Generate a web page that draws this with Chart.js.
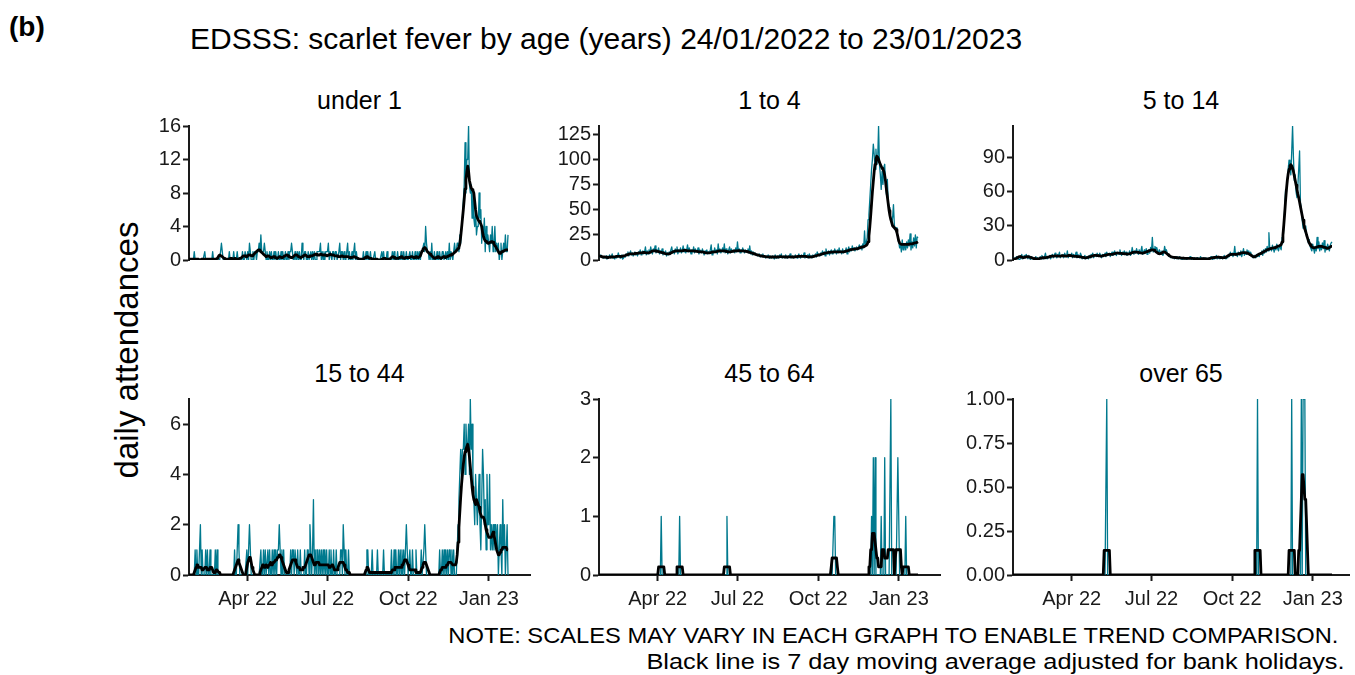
<!DOCTYPE html>
<html>
<head>
<meta charset="utf-8">
<script src="https://cdn.jsdelivr.net/npm/chart.js@4.4.1/dist/chart.umd.min.js"></script>
<style>
  html, body { margin: 0; padding: 0; background: #fff; }
  #fig { position: relative; width: 1355px; height: 675px; overflow: hidden;
         font-family: Arial, "Liberation Sans", sans-serif; color: #000; }
  #fig canvas { position: absolute; }
  .tag { position: absolute; left: 9px; top: 10px; font-size: 28px; font-weight: bold; line-height: 34px; }
  .main { position: absolute; left: 190px; top: 22px; font-size: 30px; line-height: 34px; white-space: nowrap; }
  .ylab { position: absolute; left: 127px; top: 350px; font-size: 33px; line-height: 38px; white-space: nowrap;
          transform: translate(-50%, -50%) rotate(-90deg); }
  .ptitle { position: absolute; font-size: 25px; line-height: 30px; text-align: center; white-space: nowrap; }
  .note { position: absolute; font-size: 22px; line-height: 26px; white-space: nowrap;
          transform-origin: right center; }
</style>
</head>
<body>
<div id="fig">
  <div class="tag">(b)</div>
  <div class="main">EDSSS: scarlet fever by age (years) 24/01/2022 to 23/01/2023</div>
  <div class="ylab">daily attendances</div>
  <div class="note" id="note1" style="top:623px; right:17px">NOTE: SCALES MAY VARY IN EACH GRAPH TO ENABLE TREND COMPARISON.</div>
  <div class="note" id="note2" style="top:649px; right:10px">Black line is 7 day moving average adjusted for bank holidays.</div>
</div>
<script>
// Day 0 = 24/01/2022, day 364 = 23/01/2023. Rows hold 14 days each.
const monthTicks = [67, 158, 250, 342];
const monthLabels = ['Apr 22', 'Jul 22', 'Oct 22', 'Jan 23'];

const under1Daily = [
  0,0,0,0,0,0,1,0,0,0,0,0,0,0, 0,0,0,0,1,0,0,0,0,0,0,0,0,1,
  0,0,0,0,0,0,0,0,1,2,1,0,0,0, 0,0,0,0,1,0,0,0,0,1,0,0,0,1,
  0,0,0,0,0,1,0,0,1,1,0,1,0,2, 1,0,0,1,0,1,1,0,1,1,2,1,3,1,
  1,1,2,1,0,1,0,0,1,0,1,0,0,1, 0,1,0,0,1,0,0,1,0,1,0,0,1,0,
  0,1,0,1,1,2,1,0,0,1,0,0,1,0, 1,0,0,2,1,0,1,1,0,0,1,0,0,1,
  0,1,0,1,0,0,1,1,1,1,2,0,1,0, 1,0,1,1,1,2,0,1,1,0,1,1,0,1,
  1,0,0,1,2,0,1,1,0,1,0,0,1,2, 0,1,0,0,1,0,1,2,0,1,0,0,0,0,
  0,0,0,1,0,0,1,0,1,0,0,1,0,0, 0,0,1,0,0,0,0,0,0,0,1,0,1,0,
  0,0,1,0,0,0,0,0,1,0,1,0,0,0, 1,0,0,0,1,0,0,1,0,0,1,0,0,0,
  1,0,0,1,0,0,1,0,0,1,0,1,0,1, 1,1,2,1,4,2,1,1,0,1,0,2,0,0,
  1,0,0,1,0,0,1,0,0,1,1,0,0,1, 0,1,0,2,0,1,1,0,1,2,1,1,2,2,
  1,3,2,4,5,7,9,14,8,12,12,16,9,8, 9,5,8,5,4,6,3,4,4,8,5,6,2,4,
  3,5,1,4,2,3,2,1,3,2,4,1,2,4, 1,2,1,2,0,1,2,0,1,2,1,3,1,1,
  3
];
const under1Avg = [
  0.1,0.1,0.1,0.1,0.1,0.1,0.1,0.1,0.1,0.1,0.1,0.1,0,0,
  0.1,0.1,0.1,0.1,0.1,0.1,0.1,0.1,0.1,0.1,0.1,0.1,0.1,0.1,
  0.1,0.1,0.1,0.1,0.2,0.3,0.5,0.6,0.5,0.5,0.4,0.3,0.2,0.1,
  0.1,0.1,0.1,0.1,0.1,0.2,0.2,0.1,0.1,0.1,0.2,0.2,0.1,0.1,
  0.1,0.1,0.2,0.2,0.3,0.4,0.5,0.5,0.5,0.4,0.4,0.5,0.6,0.6,
  0.6,0.5,0.5,0.6,0.7,0.8,0.9,1.0,1.1,1.2,1.2,1.1,1.0,0.9,
  0.8,0.7,0.6,0.5,0.4,0.4,0.5,0.5,0.4,0.3,0.3,0.3,0.4,0.4,
  0.3,0.3,0.2,0.2,0.3,0.4,0.4,0.3,0.3,0.3,0.4,0.5,0.5,0.6,
  0.6,0.5,0.4,0.4,0.3,0.3,0.3,0.4,0.5,0.6,0.6,0.6,0.5,0.4,
  0.4,0.3,0.3,0.4,0.5,0.5,0.6,0.6,0.5,0.4,0.4,0.4,0.5,0.5,
  0.5,0.5,0.6,0.6,0.7,0.7,0.6,0.6,0.6,0.6,0.7,0.7,0.6,0.6,
  0.6,0.6,0.6,0.5,0.5,0.6,0.6,0.7,0.7,0.6,0.6,0.6,0.5,0.5,
  0.5,0.5,0.4,0.4,0.4,0.4,0.5,0.5,0.4,0.4,0.4,0.4,0.4,0.4,
  0.4,0.3,0.3,0.3,0.3,0.3,0.4,0.4,0.3,0.3,0.2,0.2,0.1,0.1,
  0.1,0.1,0.1,0.1,0.2,0.3,0.3,0.4,0.4,0.3,0.2,0.2,0.2,0.1,
  0.1,0.1,0.1,0.1,0.1,0.1,0,0,0,0,0.1,0.1,0.2,0.2,
  0.2,0.1,0.1,0.1,0.1,0.1,0.2,0.3,0.4,0.4,0.3,0.2,0.2,0.2,
  0.2,0.2,0.3,0.3,0.4,0.3,0.3,0.2,0.2,0.3,0.3,0.3,0.3,0.3,
  0.3,0.4,0.4,0.4,0.3,0.3,0.3,0.4,0.4,0.3,0.3,0.4,0.5,0.8,
  1.1,1.3,1.4,1.5,1.4,1.2,1.0,0.9,0.8,0.7,0.6,0.5,0.4,0.3,
  0.2,0.2,0.3,0.3,0.4,0.4,0.3,0.2,0.2,0.3,0.4,0.4,0.3,0.3,
  0.4,0.4,0.5,0.5,0.6,0.6,0.7,0.7,0.8,0.9,1.0,1.1,1.2,1.4,
  1.5,1.9,2.8,3.8,4.9,6.0,7.2,8.5,9.6,10.5,11.2,10.6,9.5,9.0,
  8.6,8.4,8.3,8.0,7.0,6.0,5.3,5.0,4.8,4.6,4.5,4.3,4.0,3.3,
  2.8,2.5,2.3,2.2,2.1,2.0,2.0,2.1,2.1,2.2,2.2,2.1,1.9,1.7,
  1.6,1.4,1.2,1.0,0.8,0.8,0.9,1.0,1.0,1.1,1.1,1.2,1.2,1.2,
  1.2
];

const age1to4Daily = [
  4,3,5,4,3,2,3,2,4,1,2,3,5,2, 3,6,2,3,1,4,2,3,7,4,2,3,5,1,
  2,4,3,6,5,8,4,6,9,5,7,4,6,8, 5,7,4,8,6,10,5,7,9,6,8,13,5,9,
  6,10,7,13,8,6,11,9,14,7,10,8,12,6, 9,7,11,5,8,6,9,4,7,5,8,6,10,13,
  7,9,6,11,8,13,6,10,8,12,7,9,14,8, 11,7,10,15,8,12,9,6,10,8,13,7,11,9,
  8,12,6,10,9,7,11,8,5,9,7,10,6,8, 7,10,15,5,9,7,12,8,10,6,16,8,11,7,
  9,12,8,16,7,11,9,6,10,13,7,11,8,9, 10,7,12,8,18,9,11,7,10,8,12,9,7,10,
  9,8,11,7,14,6,9,5,8,6,7,5,6,4, 5,6,3,5,4,6,3,4,2,4,3,5,2,4,
  3,2,4,3,1,5,2,3,4,2,5,3,6,2, 3,4,2,5,3,2,4,3,6,2,3,4,2,3,
  5,3,2,4,6,3,2,5,4,3,7,2,4,3, 5,2,6,3,4,2,5,3,4,6,3,8,5,6,
  4,7,5,9,6,8,4,11,7,6,9,5,8,10, 6,9,7,11,8,6,10,7,12,8,9,6,11,7,
  9,8,12,6,10,13,8,11,9,14,10,12,9,11, 13,10,12,15,11,14,10,16,12,29,14,18,22,40,
  45,60,75,90,100,115,105,90,110,95,100,133,95,85, 70,88,75,92,95,72,65,80,58,52,45,40,36,42,
  55,35,30,32,28,22,18,12,15,8,20,10,16,14, 10,18,12,20,14,26,10,18,12,22,14,25,12,23,
  22
];
const age1to4Avg = [
  4,4,3.5,3.5,3,3,3,2.8,2.8,2.5,2.5,2.5,2.8,3,
  3,3,3,3,3.2,3.3,3.5,3.5,3.6,3.6,3.5,3.4,3.5,3.8,
  4,4.2,4.5,5,5.2,5.5,5.8,6,6,6,6,6,6.2,6.5,
  6.5,6.5,6.5,6.8,7,7,7,7,7.2,7.5,7.5,7.2,7,7,
  7,7.2,7.5,8,8.5,9,9,9,9,8.8,8.5,8.5,8.3,8,
  7.8,7.5,7.2,7,6.8,6.5,6.2,6,6,6,6.2,6.5,7,7.5,
  8,8.2,8.5,8.8,9,9,9,9,9,9,9,9,9.2,9.5,
  9.5,9.5,9.2,9,9,9,9,9,9,9,9,8.8,8.8,8.5,
  8.5,8.3,8.2,8,8,8,8,7.8,7.5,7.2,7,7,7,7,
  7,7.2,7.5,7.8,8,8,8,8,8.2,8.5,8.8,9,9,9,
  9,9,9,9,8.8,8.5,8.3,8.2,8,8,8,8.2,8.5,8.7,
  9,9,9,9,9,9.2,9.2,9,9,9,9,9,8.8,8.5,
  8.5,8.3,8,7.8,7.5,7.2,7,6.8,6.5,6,5.8,5.5,5.2,5,
  4.8,4.5,4.2,4,3.8,3.6,3.5,3.5,3.3,3.2,3.2,3.1,3,3,
  3,3,3,3,3,3,3,3,3,3,3.2,3.3,3.3,3.2,
  3.2,3.1,3,3,3,3,3,3.2,3.2,3.1,3,3,3,3,
  3.2,3.3,3.4,3.5,3.5,3.5,3.6,3.6,3.5,3.5,3.6,3.6,3.5,3.3,
  3.2,3.1,3,3,3.1,3.2,3.3,3.5,3.8,4,4.2,4.5,4.8,5,
  5.2,5.5,5.8,6,6.3,6.6,6.8,7,7.2,7.4,7.5,7.6,7.7,7.8,
  7.8,7.9,8,8,8,8,8,8,8,8,8,8,8,8,
  8.2,8.5,8.8,9,9.3,9.6,10,10.2,10.4,10.5,10.6,10.8,11,11,
  11,11.2,11.5,12,12.3,12.5,12.8,13,13.2,13.5,14,14.5,15.5,18,
  24,33,44,56,68,78,88,95,100,103,102,100,97,95,
  93,91,90,88,84,78,70,63,56,49,44,40,37,34,
  33,32,31,30,27,23,19,17,16,15.5,15.5,15.5,15.5,15.5,
  15.5,15.5,15.5,15.5,15.8,16,16,16,16.2,16.5,17,17,17.2,17.5,
  18
];

const age5to14Daily = [
  1,2,0,1,3,1,2,0,1,2,5,1,3,4, 2,5,3,1,4,2,0,3,1,2,0,1,3,1,
  2,0,1,3,1,4,2,1,3,6,2,1,3,2, 4,1,3,5,2,4,6,3,2,5,4,7,2,4,
  3,5,2,6,4,3,8,2,5,3,4,6,2,5, 3,4,7,2,5,3,2,6,4,1,3,2,4,1,
  3,2,1,4,2,5,3,6,2,4,5,3,6,4, 3,6,4,2,5,3,4,6,3,7,4,5,6,3,
  5,7,4,6,8,5,4,7,6,5,9,6,4,7, 6,8,5,7,4,6,5,8,4,6,11,7,5,8,
  6,10,7,5,9,6,8,12,5,7,9,6,10,5, 7,9,6,11,8,20,7,10,12,9,11,8,6,9,
  7,5,8,4,6,12,8,9,6,5,3,4,2,3, 2,3,1,2,3,1,2,1,3,1,2,0,1,2,
  1,2,0,1,2,1,3,1,0,2,1,2,1,0, 2,1,0,1,3,1,0,2,1,0,2,1,0,1,
  2,1,3,2,0,3,1,2,4,1,2,3,1,2, 3,1,2,4,2,1,3,2,5,3,7,4,6,3,
  5,12,4,6,3,7,5,4,8,3,6,10,4,7, 5,9,6,8,4,7,5,3,2,4,3,2,5,3,
  4,3,6,5,8,4,9,6,10,7,12,8,24,9, 11,8,13,10,7,12,9,14,10,8,13,11,9,20,
  15,30,45,62,60,70,80,88,85,75,95,118,90,70, 75,60,55,65,80,96,50,45,35,28,33,25,30,22,
  20,15,18,12,10,8,14,10,6,12,8,20,10,16, 8,13,9,15,10,17,7,12,9,14,11,8,13,15,
  16
];
const age5to14Avg = [
  1,1,1,1.2,1.5,2,2.5,3,3,2.8,2.5,2.2,2,2.2,
  2.5,2.8,3,3,2.8,2.5,2.2,2,1.8,1.5,1.3,1.2,1,1,
  1,1,1.2,1.4,1.6,1.8,2,2,2,2,2.2,2.4,2.6,2.8,
  3,3.2,3.4,3.5,3.5,3.5,3.6,3.7,3.6,3.5,3.5,3.4,3.5,3.6,
  3.8,3.8,3.7,3.6,3.5,3.5,3.6,3.8,4,4,3.8,3.6,3.5,3.4,
  3.3,3.2,3.1,3,3,3,2.9,2.8,2.6,2.4,2.2,2,1.9,1.9,
  2,2.2,2.5,2.8,3,3.2,3.4,3.6,3.8,4,4,4,3.9,3.8,
  3.7,3.6,3.5,3.5,3.6,3.8,4,4.2,4.4,4.6,4.8,5,5,5,
  5,5,5.2,5.4,5.6,5.8,6,6,6,6,6,5.9,5.8,5.7,
  5.6,5.5,5.4,5.3,5.2,5.2,5.3,5.5,5.8,6.1,6.5,6.8,7,7,
  7,6.9,6.8,6.7,6.5,6.3,6.2,6.1,6,6.2,6.5,6.8,7.1,7.5,
  7.8,8,8.3,8.6,8.9,9,8.8,8.5,8,7.4,6.8,6.2,5.7,5.5,
  5.6,6,6.5,6.9,7.1,7,6.6,6,5.3,4.6,4,3.5,3.1,2.8,
  2.6,2.4,2.3,2.2,2.1,2,2,1.9,1.8,1.8,1.7,1.6,1.6,1.5,
  1.5,1.5,1.4,1.4,1.4,1.4,1.5,1.5,1.5,1.4,1.3,1.2,1.2,1.1,
  1.1,1.1,1,1,1,1.1,1.2,1.2,1.1,1,1,1,1,1.1,
  1.3,1.5,1.7,1.9,2,2.1,2.2,2.3,2.4,2.5,2.5,2.4,2.3,2.2,
  2.1,2,2,2.1,2.3,2.6,3,3.5,4,4.5,4.8,5,5,5,
  5,5,5,5,5.2,5.4,5.6,5.8,6,6.2,6.4,6.5,6.5,6.4,
  6.2,6,5.8,5.5,5,4.5,4,3.5,3,2.8,3,3.3,3.8,4.3,
  4.8,5.2,5.6,6,6.4,6.8,7.2,7.6,8,8.5,9,9.3,9.6,9.8,
  10,10.2,10.4,10.6,10.8,11,11.3,11.6,12,12.3,12.6,13,13.5,16,
  22,31,41,52,62,70,76,80,83,84,83,81,78,74,
  70,66,62,58,55,51,47,43,39,35,31,27,25,22,
  19.5,17,15,13.5,12.5,11.5,11,10.8,10.8,11,11.2,11.5,11.8,12,
  12,12,12,11.8,11.5,11.2,11,10.8,10.5,10.3,10.5,11,11.5,12,
  12
];

const age15to44Daily = [
  0,0,0,0,0,0,0,1,0,1,0,0,1,2, 0,1,0,0,0,1,0,1,0,0,1,0,0,0,
  0,0,1,0,1,0,0,0,0,0,0,0,0,0, 0,0,0,0,0,0,0,0,0,0,1,0,0,1,
  2,1,0,0,0,0,0,0,0,0,1,0,1,2, 1,0,0,0,0,0,0,0,0,0,0,0,1,0,
  0,1,0,1,0,0,1,0,1,0,0,1,0,1, 0,1,0,1,1,2,1,0,1,0,1,0,0,0,
  0,0,0,0,1,0,1,1,0,1,1,0,1,0, 0,1,0,0,0,0,1,0,0,1,1,0,2,1,
  0,1,3,0,1,0,1,1,0,1,0,1,0,1, 0,1,0,1,0,0,1,0,1,0,0,1,0,0,
  1,0,0,0,0,1,1,0,2,1,0,1,0,0, 1,0,0,0,0,0,0,0,0,0,0,0,0,0,
  0,0,0,0,0,0,0,1,1,0,0,0,0,1, 0,0,0,0,0,1,0,0,0,0,0,0,1,0,
  0,0,0,0,0,0,0,1,0,0,1,0,1,0, 0,1,0,1,0,1,0,1,0,1,2,1,0,0,
  1,0,0,1,0,0,0,1,0,0,0,0,0,1, 0,0,1,2,1,0,0,0,0,0,0,0,0,0,
  0,0,0,0,0,0,1,0,0,1,0,1,0,1, 0,1,0,1,1,0,1,0,1,0,0,0,1,2,
  3,4,5,4,5,5,6,4,6,5,5,6,4,7, 5,6,4,3,2,4,3,2,3,4,2,1,3,5,
  4,2,3,1,4,2,2,4,1,2,1,2,1,2, 2,1,2,0,1,2,1,0,3,1,2,0,1,2,
  0
];
const age15to44Avg = [
  0,0,0,0,0,0,0.1,0.2,0.3,0.4,0.4,0.3,0.3,0.3,
  0.3,0.2,0.2,0.2,0.3,0.3,0.3,0.2,0.2,0.2,0.3,0.3,0.3,0.2,
  0.1,0.1,0.1,0.2,0.2,0.2,0.1,0.1,0,0,0,0,0,0,
  0,0,0,0,0,0,0,0,0,0.1,0.2,0.3,0.4,0.5,
  0.6,0.5,0.4,0.3,0.2,0.1,0,0,0,0.1,0.3,0.5,0.6,0.7,
  0.7,0.5,0.3,0.2,0.1,0,0,0,0,0,0,0.1,0.2,0.3,
  0.4,0.4,0.3,0.3,0.4,0.4,0.3,0.4,0.4,0.5,0.4,0.4,0.5,0.5,
  0.5,0.6,0.6,0.7,0.7,0.8,0.8,0.7,0.6,0.5,0.4,0.3,0.2,0.1,
  0.1,0.1,0.2,0.3,0.4,0.5,0.6,0.6,0.6,0.6,0.5,0.4,0.3,0.3,
  0.3,0.2,0.2,0.2,0.3,0.3,0.3,0.4,0.5,0.6,0.7,0.8,0.8,0.8,
  0.7,0.6,0.5,0.4,0.4,0.5,0.5,0.5,0.5,0.4,0.4,0.4,0.4,0.4,
  0.4,0.4,0.4,0.4,0.4,0.4,0.3,0.3,0.3,0.4,0.4,0.3,0.2,0.2,
  0.2,0.2,0.3,0.4,0.5,0.5,0.5,0.5,0.5,0.4,0.3,0.2,0.2,0.1,
  0.1,0.1,0,0,0,0,0,0,0,0,0,0,0,0,
  0,0,0,0,0,0.1,0.2,0.3,0.3,0.2,0.1,0.1,0.1,0.1,
  0.1,0.1,0.1,0.1,0.1,0.1,0.1,0.1,0.1,0.1,0.1,0.1,0.1,0.1,
  0.1,0.1,0.1,0.1,0.1,0.1,0.1,0.1,0.2,0.2,0.2,0.3,0.3,0.3,
  0.3,0.3,0.3,0.3,0.3,0.4,0.4,0.5,0.6,0.6,0.6,0.5,0.4,0.3,
  0.2,0.2,0.2,0.2,0.2,0.2,0.2,0.1,0.1,0.1,0.1,0.1,0.1,0.2,
  0.3,0.4,0.5,0.5,0.5,0.4,0.3,0.2,0.1,0,0,0,0,0,
  0,0,0,0,0,0,0.1,0.2,0.2,0.3,0.3,0.3,0.3,0.3,
  0.4,0.4,0.5,0.5,0.5,0.5,0.5,0.4,0.4,0.4,0.4,0.5,0.8,1.3,
  1.9,2.5,3.1,3.6,4.0,4.4,4.7,4.9,5.0,5.1,5.2,5.0,4.7,4.3,
  3.9,3.5,3.2,3.0,2.9,2.8,3.0,2.9,2.8,2.7,2.5,2.4,2.3,2.3,
  2.3,2.2,2.0,1.8,1.7,1.6,1.5,1.5,1.5,1.5,1.6,1.7,1.6,1.4,
  1.2,1.0,0.9,0.8,0.8,0.9,1.0,1.0,1.1,1.1,1.1,1.1,1.1,1.0,
  1.0
];

const age45to64Daily = [
  0,0,0,0,0,0,0,0,0,0,0,0,0,0, 0,0,0,0,0,0,0,0,0,0,0,0,0,0,
  0,0,0,0,0,0,0,0,0,0,0,0,0,0, 0,0,0,0,0,0,0,0,0,0,0,0,0,0,
  0,0,0,0,0,0,0,0,0,0,0,0,0,0, 0,1,0,0,0,0,0,0,0,0,0,0,0,0,
  0,0,0,0,0,0,0,0,1,0,0,0,0,0, 0,0,0,0,0,0,0,0,0,0,0,0,0,0,
  0,0,0,0,0,0,0,0,0,0,0,0,0,0, 0,0,0,0,0,0,0,0,0,0,0,0,0,0,
  0,0,0,0,0,0,1,0,0,0,0,0,0,0, 0,0,0,0,0,0,0,0,0,0,0,0,0,0,
  0,0,0,0,0,0,0,0,0,0,0,0,0,0, 0,0,0,0,0,0,0,0,0,0,0,0,0,0,
  0,0,0,0,0,0,0,0,0,0,0,0,0,0, 0,0,0,0,0,0,0,0,0,0,0,0,0,0,
  0,0,0,0,0,0,0,0,0,0,0,0,0,0, 0,0,0,0,0,0,0,0,0,0,0,0,0,0,
  0,0,0,0,0,0,0,0,0,0,0,0,0,0, 0,0,1,1,0,0,0,0,0,0,0,0,0,0,
  0,0,0,0,0,0,0,0,0,0,0,0,0,0, 0,0,0,0,0,0,0,0,0,0,0,0,0,0,
  0,0,0,1,0,2,0,2,0,0,0,0,0,0, 1,0,0,0,2,0,0,0,0,0,0,3,0,0,
  0,0,0,0,0,2,1,0,0,0,0,0,0,0, 1,0,0,0,0,0,0,0,0,0,0,0,0,0,
  0
];
const age45to64Avg = [
  0,0,0,0,0,0,0,0,0,0,0,0,0,0, 0,0,0,0,0,0,0,0,0,0,0,0,0,0,
  0,0,0,0,0,0,0,0,0,0,0,0,0,0, 0,0,0,0,0,0,0,0,0,0,0,0,0,0,
  0,0,0,0,0,0,0,0,0,0,0,0,0.14,0.14, 0.14,0.14,0.14,0.14,0.14,0,0,0,0,0,0,0,0,0,
  0,0,0,0,0,0.14,0.14,0.14,0.14,0.14,0.14,0.14,0,0, 0,0,0,0,0,0,0,0,0,0,0,0,0,0,
  0,0,0,0,0,0,0,0,0,0,0,0,0,0, 0,0,0,0,0,0,0,0,0,0,0,0,0,0,
  0,0,0,0.14,0.14,0.14,0.14,0.14,0.14,0.14,0,0,0,0, 0,0,0,0,0,0,0,0,0,0,0,0,0,0,
  0,0,0,0,0,0,0,0,0,0,0,0,0,0, 0,0,0,0,0,0,0,0,0,0,0,0,0,0,
  0,0,0,0,0,0,0,0,0,0,0,0,0,0, 0,0,0,0,0,0,0,0,0,0,0,0,0,0,
  0,0,0,0,0,0,0,0,0,0,0,0,0,0, 0,0,0,0,0,0,0,0,0,0,0,0,0,0,
  0,0,0,0,0,0,0,0,0,0,0,0,0,0.14, 0.29,0.29,0.29,0.29,0.29,0.29,0.14,0,0,0,0,0,0,0,
  0,0,0,0,0,0,0,0,0,0,0,0,0,0, 0,0,0,0,0,0,0,0,0,0,0,0,0,0,
  0.14,0.14,0.43,0.43,0.71,0.71,0.71,0.57,0.57,0.29,0.29,0.14,0.14,0.14,
  0.14,0.43,0.43,0.43,0.29,0.29,0.29,0.29,0.43,0.43,0.43,0.43,0.43,0.43,
  0.43,0,0.29,0.43,0.43,0.43,0.43,0.43,0.43,0.14,0,0.14,0.14,0.14,
  0.14,0.14,0.14,0.14,0,0,0,0,0,0,0,0,0,0,
  0
];

const over65Daily = [
  0,0,0,0,0,0,0,0,0,0,0,0,0,0, 0,0,0,0,0,0,0,0,0,0,0,0,0,0,
  0,0,0,0,0,0,0,0,0,0,0,0,0,0, 0,0,0,0,0,0,0,0,0,0,0,0,0,0,
  0,0,0,0,0,0,0,0,0,0,0,0,0,0, 0,0,0,0,0,0,0,0,0,0,0,0,0,0,
  0,0,0,0,0,0,0,0,0,0,0,0,0,0, 0,0,0,0,0,0,0,0,0,1,0,0,0,0,
  0,0,0,0,0,0,0,0,0,0,0,0,0,0, 0,0,0,0,0,0,0,0,0,0,0,0,0,0,
  0,0,0,0,0,0,0,0,0,0,0,0,0,0, 0,0,0,0,0,0,0,0,0,0,0,0,0,0,
  0,0,0,0,0,0,0,0,0,0,0,0,0,0, 0,0,0,0,0,0,0,0,0,0,0,0,0,0,
  0,0,0,0,0,0,0,0,0,0,0,0,0,0, 0,0,0,0,0,0,0,0,0,0,0,0,0,0,
  0,0,0,0,0,0,0,0,0,0,0,0,0,0, 0,0,0,0,0,0,0,0,0,0,0,0,0,0,
  0,0,0,0,0,0,0,0,0,0,0,0,0,0, 0,0,0,0,0,0,0,0,0,0,0,0,0,1,
  0,0,0,0,0,0,0,0,0,0,0,0,0,0, 0,0,0,0,0,0,0,0,0,0,0,0,0,0,
  0,0,0,0,0,0,0,0,0,0,1,0,0,0, 0,0,0,0,0,0,0,1,0,1,1,1,0,0,
  0,0,0,0,0,0,0,0,0,0,0,0,0,0, 0,0,0,0,0,0,0,0,0,0,0,0,0,0,
  0
];
const over65Avg = [
  0,0,0,0,0,0,0,0,0,0,0,0,0,0, 0,0,0,0,0,0,0,0,0,0,0,0,0,0,
  0,0,0,0,0,0,0,0,0,0,0,0,0,0, 0,0,0,0,0,0,0,0,0,0,0,0,0,0,
  0,0,0,0,0,0,0,0,0,0,0,0,0,0, 0,0,0,0,0,0,0,0,0,0,0,0,0,0,
  0,0,0,0,0,0,0,0,0,0,0,0,0,0, 0,0,0,0,0,0,0.14,0.14,0.14,0.14,0.14,0.14,0.14,0,
  0,0,0,0,0,0,0,0,0,0,0,0,0,0, 0,0,0,0,0,0,0,0,0,0,0,0,0,0,
  0,0,0,0,0,0,0,0,0,0,0,0,0,0, 0,0,0,0,0,0,0,0,0,0,0,0,0,0,
  0,0,0,0,0,0,0,0,0,0,0,0,0,0, 0,0,0,0,0,0,0,0,0,0,0,0,0,0,
  0,0,0,0,0,0,0,0,0,0,0,0,0,0, 0,0,0,0,0,0,0,0,0,0,0,0,0,0,
  0,0,0,0,0,0,0,0,0,0,0,0,0,0, 0,0,0,0,0,0,0,0,0,0,0,0,0,0,
  0,0,0,0,0,0,0,0,0,0,0,0,0,0, 0,0,0,0,0,0,0,0,0,0,0.14,0.14,0.14,0.14,
  0.14,0.14,0.14,0,0,0,0,0,0,0,0,0,0,0, 0,0,0,0,0,0,0,0,0,0,0,0,0,0,
  0,0,0,0,0,0,0,0.14,0.14,0.14,0.14,0.14,0.14,0.14,
  0,0,0,0,0.14,0.14,0.29,0.43,0.57,0.57,0.57,0.43,0.43,0.29,
  0.14,0,0,0,0,0,0,0,0,0,0,0,0,0, 0,0,0,0,0,0,0,0,0,0,0,0,0,0,
  0
];

const TEAL = '#00798e';
const INK = '#1a1a1a';

Chart.defaults.font.family = 'Arial, "Liberation Sans", sans-serif';
Chart.defaults.font.size = 20;
Chart.defaults.color = INK;

const panels = [
  { title: 'under 1',  daily: under1Daily,    avg: under1Avg,    yMax: 16,  yStep: 4,    left: 189, right: 530,  top: 124, bottom: 302, xAxis: false },
  { title: '1 to 4',   daily: age1to4Daily,   avg: age1to4Avg,   yMax: 133, yStep: 25,   left: 599, right: 940,  top: 124, bottom: 302, xAxis: false },
  { title: '5 to 14',  daily: age5to14Daily,  avg: age5to14Avg,  yMax: 118, yStep: 30,   left: 1013, right: 1349, top: 124, bottom: 302, xAxis: false },
  { title: '15 to 44', daily: age15to44Daily, avg: age15to44Avg, yMax: 7,   yStep: 2,    left: 189, right: 530,  top: 397, bottom: 575, xAxis: true },
  { title: '45 to 64', daily: age45to64Daily, avg: age45to64Avg, yMax: 3,   yStep: 1,    left: 599, right: 940,  top: 397, bottom: 575, xAxis: true },
  { title: 'over 65',  daily: over65Daily,    avg: over65Avg,    yMax: 1,   yStep: 0.25, left: 1013, right: 1349, top: 397, bottom: 575, xAxis: true, decimals: 2 }
];

const PX_PER_DAY = 0.8764;
const AXIS_W = 66, PAD_T = 12, PAD_R = 6, XAXIS_H = 42;
const fig = document.getElementById('fig');

function toPoints(arr) {
  return arr.map((v, i) => ({ x: i, y: v }));
}

panels.forEach(p => {
  const w = p.right - p.left, h = p.bottom - p.top;

  const t = document.createElement('div');
  t.className = 'ptitle';
  t.textContent = p.title;
  t.style.left = p.left + 'px';
  t.style.width = w + 'px';
  t.style.top = (p.top - 39) + 'px';
  fig.appendChild(t);

  const cv = document.createElement('canvas');
  const cw = w + AXIS_W + PAD_R;
  const ch = h + PAD_T + (p.xAxis ? XAXIS_H : 12);
  cv.width = cw; cv.height = ch;
  cv.style.width = cw + 'px'; cv.style.height = ch + 'px';
  cv.style.left = (p.left - AXIS_W) + 'px';
  cv.style.top = (p.top - PAD_T) + 'px';
  fig.appendChild(cv);

  new Chart(cv, {
    type: 'line',
    data: {
      datasets: [
        { data: toPoints(p.avg), borderColor: '#000', borderWidth: 2.8, order: 0 },
        { data: toPoints(p.daily), borderColor: TEAL, borderWidth: 1.3, order: 1 }
      ]
    },
    options: {
      responsive: false,
      animation: false,
      events: [],
      layout: { padding: { left: 0, right: PAD_R, top: PAD_T, bottom: p.xAxis ? 0 : 12 } },
      elements: { point: { radius: 0 }, line: { tension: 0, borderJoinStyle: 'round' } },
      plugins: { legend: { display: false }, tooltip: { enabled: false } },
      scales: {
        x: {
          type: 'linear',
          display: p.xAxis,
          min: 0,
          max: w / PX_PER_DAY,
          z: 1,
          afterFit: s => { s.height = XAXIS_H; },
          afterBuildTicks: s => { s.ticks = monthTicks.map(v => ({ value: v })); },
          grid: { display: true, drawOnChartArea: false, drawTicks: true, tickLength: 6, tickWidth: 2, tickColor: INK },
          border: { display: true, width: 2, color: INK },
          ticks: {
            autoSkip: false, maxRotation: 0, padding: 6,
            callback: v => monthLabels[monthTicks.indexOf(v)]
          }
        },
        y: {
          min: 0,
          max: p.yMax,
          z: 1,
          afterFit: s => { s.width = AXIS_W; },
          grid: { display: true, drawOnChartArea: false, drawTicks: true, tickLength: 6, tickWidth: 2, tickColor: INK },
          border: { display: true, width: 2, color: INK },
          ticks: {
            stepSize: p.yStep, includeBounds: false, autoSkip: false, padding: 2,
            callback: v => p.decimals ? v.toFixed(p.decimals) : String(v)
          }
        }
      }
    }
  });
});

// stretch the two footnote lines to their printed widths
[['note1', 890], ['note2', 698]].forEach(([id, target]) => {
  const el = document.getElementById(id);
  const wNow = el.getBoundingClientRect().width;
  el.style.transform = 'scaleX(' + (target / wNow).toFixed(3) + ')';
});
</script>
</body>
</html>
